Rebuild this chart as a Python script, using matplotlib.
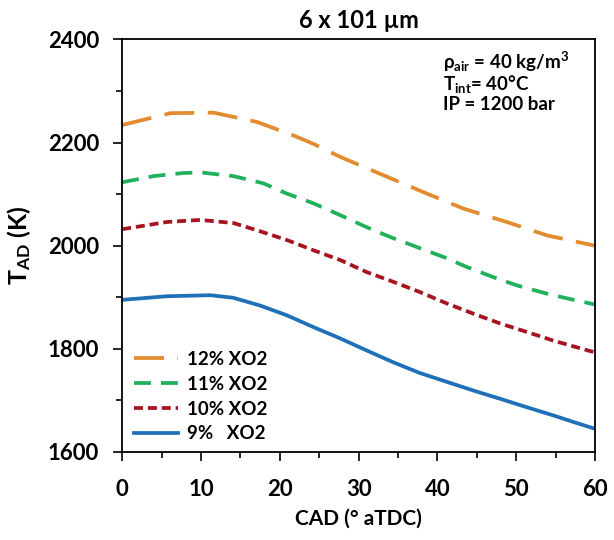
import matplotlib
matplotlib.use('Agg')
import matplotlib.pyplot as plt
from matplotlib.ticker import MultipleLocator

plt.rcParams['font.family'] = ['Lato', 'DejaVu Sans']
plt.rcParams['font.weight'] = 'bold'
plt.rcParams['mathtext.fontset'] = 'custom'
plt.rcParams['mathtext.rm'] = 'Lato:bold'
plt.rcParams['mathtext.it'] = 'Lato:bold'
plt.rcParams['mathtext.bf'] = 'Lato:bold'

# adiabatic flame temperature T_AD (K) vs crank angle (deg aTDC)
cad_12 = [0, 6.1, 11.6, 17.1, 21.7, 24.2, 27.7, 33.1, 38.2, 43.3, 48.8, 53.9, 60]
t_12 = [2234, 2257, 2258, 2240, 2214, 2198, 2172, 2137, 2104, 2072, 2046, 2020, 2000]

cad_11 = [0, 4.0, 7.8, 10.0, 14.1, 17.9, 20.9, 24.3, 27.7, 31.0, 34.0, 37.3, 40.8,
          43.7, 47.1, 50.1, 53.9, 57.0, 60]
t_11 = [2123, 2135, 2141, 2142, 2135, 2121, 2101, 2082, 2059, 2036, 2017, 1998, 1978,
        1959, 1939, 1923, 1907, 1896, 1886]

cad_10 = [0, 5.7, 9.9, 14.1, 17.1, 20.9, 24.3, 27.7, 31.0, 34.4, 37.8, 41.2, 44.6,
          48.0, 51.3, 54.7, 57.0, 60]
t_10 = [2032, 2046, 2050, 2044, 2030, 2011, 1991, 1972, 1949, 1930, 1910, 1888, 1868,
        1849, 1833, 1816, 1806, 1793]

cad_9 = [0, 5.7, 11.2, 14.1, 17.5, 20.9, 24.3, 27.7, 31.0, 34.4, 37.8, 41.2, 44.6,
         48.0, 51.3, 54.7, 57.5, 60]
t_9 = [1895, 1902, 1904, 1899, 1884, 1865, 1842, 1820, 1797, 1774, 1753, 1736, 1719,
       1703, 1687, 1671, 1657, 1645]

labels = ['12% XO2', '11% XO2', '10% XO2', '9%   XO2']
colors = ['#E38B2F', '#20B15A', '#A5141F', '#1F70B8']
dashes = [(8.0, 3.6), (4.5, 2.7), (2.4, 1.3), None]

fig = plt.figure(figsize=(6.14, 5.40), dpi=100)
ax = fig.add_axes([0.199, 0.163, 0.770, 0.764])

series = [(cad_12, t_12), (cad_11, t_11), (cad_10, t_10), (cad_9, t_9)]
for (xs, ys), lab, col, ds in zip(series, labels, colors, dashes):
    line, = ax.plot(xs, ys, color=col, lw=2.7, label=lab, solid_joinstyle='round')
    if ds is not None:
        line.set_dashes(ds)

ax.set_xlim(0, 60)
ax.set_ylim(1600, 2400)
ax.xaxis.set_major_locator(MultipleLocator(10))
ax.xaxis.set_minor_locator(MultipleLocator(5))
ax.yaxis.set_major_locator(MultipleLocator(200))
ax.yaxis.set_minor_locator(MultipleLocator(100))
ax.tick_params(axis='x', which='major', direction='out', length=6.5, width=1.2, labelsize=16, pad=13)
ax.tick_params(axis='x', which='minor', direction='out', length=4.5, width=1.2)
ax.tick_params(axis='y', which='major', direction='out', length=6.5, width=1.2, labelsize=16, pad=10)
ax.tick_params(axis='y', which='minor', direction='out', length=4, width=1.2)
for sp in ax.spines.values():
    sp.set_linewidth(1.3)

ax.set_xlabel('CAD (° aTDC)', fontsize=15, fontweight='bold', labelpad=6)
ax.set_ylabel(r'T$_{\mathrm{AD}}$ (K)', fontsize=18, fontweight='bold', labelpad=11)
ax.set_title('6 x 101 µm', fontsize=17, fontweight='bold', pad=8)

ax.text(0.679, 0.975, r'ρ$_{\mathrm{air}}$ = 40 kg/m$^{\mathrm{3}}$', transform=ax.transAxes,
        ha='left', va='top', fontsize=13.5, fontweight='bold')
ax.text(0.679, 0.918, r'T$_{\mathrm{int}}$= 40°C', transform=ax.transAxes,
        ha='left', va='top', fontsize=13.5, fontweight='bold')
ax.text(0.679, 0.862, 'IP = 1200 bar', transform=ax.transAxes,
        ha='left', va='top', fontsize=13.5, fontweight='bold')

leg = ax.legend(loc='lower left', bbox_to_anchor=(0.01, 0.005), frameon=False,
                fontsize=13.5, handlelength=2.35, handletextpad=0.43,
                labelspacing=0.42, borderaxespad=0.0)

fig.savefig('out.png', dpi=100)
